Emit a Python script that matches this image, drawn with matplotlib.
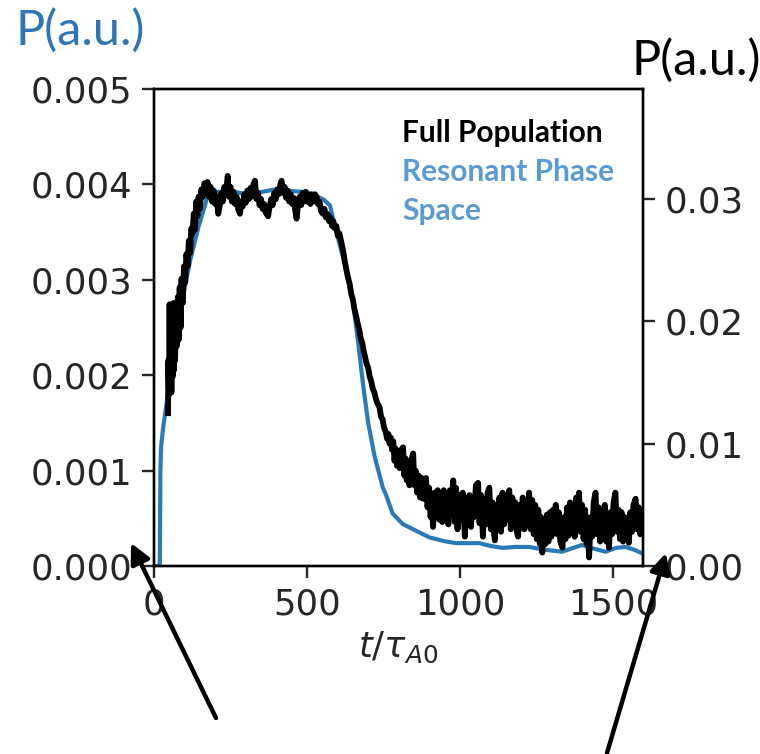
import numpy as np
import matplotlib.pyplot as plt
from matplotlib.patches import FancyArrowPatch

# Resonant phase space, left axis (units of 1e-3)
blue_t = [0, 19, 20, 21, 23, 30, 41, 55, 70,
          90, 118, 145, 173, 200, 250, 300, 350, 400, 450,
          500, 530, 555, 575, 596, 625, 650, 667, 683, 700,
          721, 748, 759, 780, 813, 850, 900, 950, 987, 1030,
          1063, 1100, 1140, 1180, 1226, 1280, 1334, 1370, 1399, 1440,
          1476, 1510, 1540, 1570, 1598]
blue_p = [0, 0, 0.5, 1.0, 1.24, 1.45, 1.70, 2.0, 2.3,
          2.75, 3.2, 3.55, 3.85, 3.92, 3.93, 3.90, 3.92, 3.95, 3.93,
          3.92, 3.88, 3.84, 3.78, 3.50, 3.15, 2.78, 2.35, 1.91, 1.50,
          1.15, 0.82, 0.74, 0.55, 0.44, 0.38, 0.30, 0.26, 0.24, 0.24,
          0.24, 0.21, 0.19, 0.20, 0.20, 0.17, 0.15, 0.19, 0.22, 0.18,
          0.15, 0.19, 0.20, 0.17, 0.13]

# Full population, right axis (units of 1e-2)
black_rise = [(46, 1.25), (47, 1.68), (49, 1.40), (51, 2.14), (53, 1.45), (55, 1.95),
              (57, 1.42), (59, 2.05), (61, 1.55), (63, 2.15), (65, 1.60), (67, 2.05),
              (69, 1.68), (72, 2.15), (75, 1.80), (78, 2.20), (81, 1.85), (84, 2.28),
              (87, 1.95), (90, 2.35), (94, 2.15), (98, 2.45), (102, 2.32), (106, 2.55),
              (110, 2.45), (114, 2.66), (118, 2.56), (122, 2.76), (126, 2.72), (130, 2.88),
              (134, 2.75), (138, 2.98), (142, 2.86), (146, 3.02), (150, 2.92), (155, 3.08),
              (160, 3.02), (165, 3.13), (170, 3.06)]

black_top = [(175, 3.14), (180, 3.02), (185, 3.10), (190, 2.98), (195, 3.07), (200, 2.96),
             (205, 3.02), (210, 2.88), (215, 2.95), (220, 3.05), (225, 2.98), (230, 3.10),
             (235, 3.04), (241, 3.19), (245, 3.02), (250, 3.10), (255, 2.98), (260, 3.06),
             (265, 2.96), (270, 3.02), (275, 2.92), (281, 2.88), (285, 2.98), (290, 2.94),
             (295, 3.04), (300, 2.97), (305, 3.07), (310, 3.00), (315, 3.09), (320, 3.02),
             (325, 3.12), (330, 3.15), (335, 3.00), (340, 3.05), (345, 2.95), (350, 3.00),
             (355, 2.92), (360, 2.96), (365, 2.89), (373, 2.86), (378, 2.94), (383, 3.00),
             (388, 2.95), (393, 3.05), (398, 3.00), (403, 3.08), (408, 3.04), (413, 3.12),
             (417, 3.15), (422, 3.05), (427, 3.10), (432, 3.01), (437, 3.07), (442, 2.98),
             (447, 3.04), (452, 2.96), (457, 3.01), (462, 2.90), (466, 2.84), (471, 2.96),
             (476, 3.02), (481, 2.95), (486, 3.05), (491, 2.98), (496, 3.06), (501, 2.98),
             (506, 3.03), (511, 2.96), (516, 3.04), (521, 2.98), (526, 3.04), (531, 3.02),
             (536, 2.96), (541, 2.98), (546, 2.90), (552, 2.88), (557, 2.92), (562, 2.85),
             (567, 2.88), (572, 2.82), (577, 2.85), (582, 2.78), (586, 2.82), (591, 2.76)]

black_fall = [(596, 2.78), (601, 2.70), (606, 2.72), (613, 2.64), (618, 2.58), (623, 2.50),
              (629, 2.42), (634, 2.36), (640, 2.30), (645, 2.22), (650, 2.18), (655, 2.10),
              (661, 2.04), (666, 1.98), (671, 1.93), (676, 1.86), (681, 1.82), (686, 1.75),
              (690, 1.71), (694, 1.66), (700, 1.62), (705, 1.55), (710, 1.51), (715, 1.45),
              (720, 1.42), (725, 1.37), (730, 1.33), (737, 1.30), (742, 1.22), (747, 1.20),
              (752, 1.13), (757, 1.10), (762, 1.04), (766, 1.08), (770, 1.00), (774, 1.05),
              (778, 0.95), (782, 1.02), (786, 0.86), (790, 0.96), (794, 0.82), (798, 0.92),
              (803, 0.80), (808, 0.95), (814, 0.97), (818, 0.74), (822, 0.88), (826, 0.70),
              (830, 0.84), (835, 0.66), (840, 0.86), (847, 0.92), (851, 0.66), (855, 0.78),
              (860, 0.60), (865, 0.74), (870, 0.56), (875, 0.72), (880, 0.55), (885, 0.70),
              (889, 0.72), (894, 0.48), (899, 0.64), (904, 0.40), (908, 0.58), (912, 0.32)]

black_tail = [(917, 0.60), (922, 0.42), (927, 0.62), (932, 0.38), (937, 0.60), (942, 0.36),
              (947, 0.62), (952, 0.40), (957, 0.58), (962, 0.34), (967, 0.62), (972, 0.42),
              (978, 0.70), (983, 0.36), (987, 0.64), (992, 0.30), (997, 0.58), (1002, 0.38),
              (1009, 0.60), (1016, 0.24), (1021, 0.55), (1026, 0.36), (1031, 0.58), (1036, 0.32),
              (1041, 0.56), (1046, 0.40), (1052, 0.66), (1059, 0.68), (1064, 0.35), (1069, 0.58),
              (1075, 0.24), (1080, 0.55), (1085, 0.34), (1090, 0.60), (1096, 0.64), (1101, 0.30),
              (1106, 0.52), (1110, 0.30), (1114, 0.21), (1119, 0.50), (1124, 0.32), (1129, 0.56),
              (1134, 0.28), (1139, 0.60), (1144, 0.34), (1150, 0.58), (1156, 0.38), (1161, 0.62),
              (1166, 0.30), (1171, 0.56), (1176, 0.35), (1181, 0.52), (1186, 0.28), (1190, 0.24),
              (1195, 0.50), (1200, 0.32), (1205, 0.56), (1210, 0.30), (1215, 0.52), (1220, 0.34),
              (1226, 0.60), (1231, 0.30), (1236, 0.54), (1241, 0.26), (1246, 0.50), (1251, 0.22),
              (1256, 0.46), (1261, 0.18), (1265, 0.40), (1269, 0.11), (1274, 0.36), (1279, 0.18),
              (1284, 0.42), (1289, 0.20), (1294, 0.44), (1299, 0.24), (1304, 0.46), (1308, 0.30),
              (1313, 0.50), (1318, 0.26), (1323, 0.44), (1328, 0.20), (1335, 0.15), (1340, 0.40),
              (1345, 0.22), (1350, 0.48), (1355, 0.25), (1360, 0.52), (1365, 0.28), (1370, 0.50),
              (1375, 0.24), (1380, 0.56), (1385, 0.32), (1389, 0.60), (1394, 0.28), (1399, 0.50),
              (1404, 0.22), (1409, 0.46), (1414, 0.18), (1418, 0.30), (1422, 0.07), (1427, 0.40),
              (1432, 0.24), (1437, 0.52), (1443, 0.60), (1448, 0.26), (1453, 0.48), (1458, 0.20),
              (1463, 0.44), (1468, 0.24), (1473, 0.50), (1478, 0.20), (1483, 0.38), (1487, 0.15),
              (1492, 0.44), (1497, 0.26), (1502, 0.52), (1508, 0.60), (1513, 0.28), (1518, 0.46),
              (1523, 0.22), (1528, 0.44), (1533, 0.20), (1538, 0.40), (1543, 0.24), (1548, 0.36),
              (1552, 0.19), (1557, 0.44), (1562, 0.28), (1567, 0.50), (1574, 0.55), (1579, 0.30),
              (1584, 0.48), (1589, 0.26), (1594, 0.42), (1598, 0.34)]

left_ticks = [0, 0.001, 0.002, 0.003, 0.004, 0.005]
right_ticks = [0, 0.01, 0.02, 0.03]
x_ticks = [0, 500, 1000, 1500]

black = np.array(black_rise + black_top + black_fall + black_tail)
black_t = black[:, 0]
black_p = black[:, 1] * 1e-2

fig = plt.figure(figsize=(7.6, 7.54), dpi=100)
ax = fig.add_axes([0.2026, 0.2493, 0.6434, 0.6326])
ax2 = ax.twinx()

tick_col = '#262626'
ax.plot(blue_t, np.array(blue_p) * 1e-3, color='#2a7ab8', lw=3.0)
ax2.plot(black_t, black_p, color='black', lw=4.2)

ax.set_xlim(0, 1598)
ax.set_ylim(0, 0.005)
ax2.set_ylim(0, 0.039)
ax.set_xticks(x_ticks)
ax.set_yticks(left_ticks)
ax.set_yticklabels(['%.3f' % v for v in left_ticks])
ax2.set_yticks(right_ticks)
ax2.set_yticklabels(['%.2f' % v for v in right_ticks])

for a in (ax, ax2):
    a.tick_params(labelsize=25.5, length=8.4, width=1.7, pad=7, colors=tick_col, labelcolor=tick_col)
    for s in a.spines.values():
        s.set_linewidth(1.7)
        s.set_color('black')

ax.set_xlabel(r'$t/\tau_{A0}$', fontsize=25.5, color=tick_col, labelpad=6)

# annotations added on top of the figure
ann_font = 'Lato'
fig.text(15 / 760, 1 - 30 / 754, 'P(a.u.)', fontsize=35, color='#2e75b6',
         family=ann_font, ha='left', va='center')
fig.text(632 / 760, 1 - 60 / 754, 'P(a.u.)', fontsize=35, color='black',
         family=ann_font, ha='left', va='center')
fig.text(402 / 760, 1 - 133 / 754, 'Full Population', fontsize=21.5, color='black',
         family=ann_font, weight='bold', ha='left', va='center')
fig.text(402 / 760, 1 - 172 / 754, 'Resonant Phase', fontsize=21.5, color='#5b9bd5',
         family=ann_font, weight='bold', ha='left', va='center')
fig.text(402 / 760, 1 - 211 / 754, 'Space', fontsize=21.5, color='#5b9bd5',
         family=ann_font, weight='bold', ha='left', va='center')

for tail, head in [((216, 718), (131, 543)), ((607, 753), (666, 553))]:
    arr = FancyArrowPatch((tail[0] / 760, 1 - tail[1] / 754), (head[0] / 760, 1 - head[1] / 754),
                          transform=fig.transFigure, arrowstyle='-|>', mutation_scale=30,
                          lw=3.2, color='black', shrinkA=0, shrinkB=0)
    fig.add_artist(arr)

fig.savefig('out.png', dpi=100)
